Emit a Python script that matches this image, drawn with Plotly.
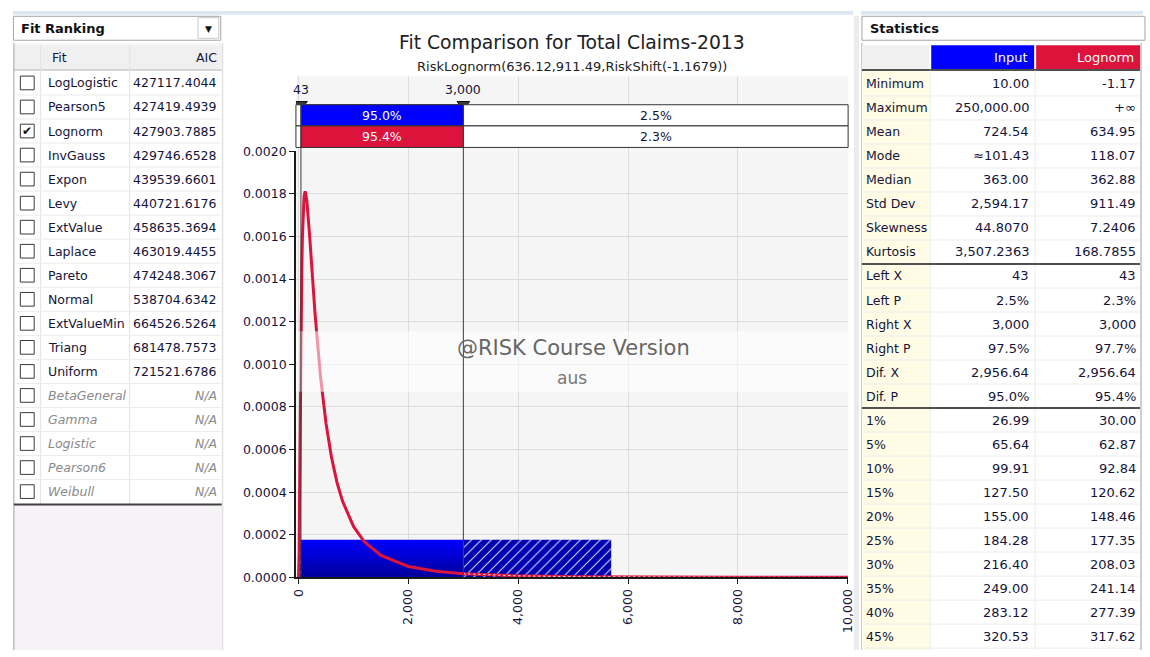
import plotly.graph_objects as go

W, H = 1150, 657

# ---------------- data ----------------
fit_names = ["LogLogistic", "Pearson5", "Lognorm", "InvGauss", "Expon", "Levy", "ExtValue",
             "Laplace", "Pareto", "Normal", "ExtValueMin", "Triang", "Uniform",
             "BetaGeneral", "Gamma", "Logistic", "Pearson6", "Weibull"]
fit_aic = ["427117.4044", "427419.4939", "427903.7885", "429746.6528", "439539.6601",
           "440721.6176", "458635.3694", "463019.4455", "474248.3067", "538704.6342",
           "664526.5264", "681478.7573", "721521.6786", "N/A", "N/A", "N/A", "N/A", "N/A"]
fit_checked = "Lognorm"

stat_labels = ["Minimum", "Maximum", "Mean", "Mode", "Median", "Std Dev", "Skewness", "Kurtosis",
               "Left X", "Left P", "Right X", "Right P", "Dif. X", "Dif. P",
               "1%", "5%", "10%", "15%", "20%", "25%", "30%", "35%", "40%", "45%"]
input_vals = ["10.00", "250,000.00", "724.54", "\u2248101.43", "363.00", "2,594.17", "44.8070",
              "3,507.2363", "43", "2.5%", "3,000", "97.5%", "2,956.64", "95.0%",
              "26.99", "65.64", "99.91", "127.50", "155.00", "184.28", "216.40", "249.00",
              "283.12", "320.53"]
lognorm_vals = ["-1.17", "+\u221e", "634.95", "118.07", "362.88", "911.49", "7.2406",
                "168.7855", "43", "2.3%", "3,000", "97.7%", "2,956.64", "95.4%",
                "30.00", "62.87", "92.84", "120.62", "148.46", "177.35", "208.03", "241.14",
                "277.39", "317.62"]
stat_sections_after = ["Kurtosis", "Dif. P"]

# histogram of the input data (first bin; later bins are negligible in view)
hist_left = [10.0]
hist_width = [5682.0]
hist_density = [0.000177]

# fitted Lognorm density
curve_x = [-1.17, 5, 10, 20, 30, 40, 50, 60, 70, 80, 100, 120, 150, 200, 250, 300, 400, 500,
           600, 700, 800, 1000, 1200, 1500, 2000, 2500, 3000, 4000, 5000, 6000, 8000, 10000]
curve_y = [0.0, 0.000036, 0.000116, 0.000435, 0.000772, 0.001062, 0.001292, 0.001467,
           0.001596, 0.001688, 0.001788, 0.001812, 0.001770, 0.001608, 0.001418, 0.001238,
           0.000940, 0.000722, 0.000563, 0.000445, 0.000358, 0.000239, 0.000166, 0.000103,
           0.0000514, 0.0000286, 0.0000172, 0.0000072, 0.0000035, 0.0000019, 0.00000066,
           0.00000028]

left_x, right_x = 43.36, 3000.0
delim_labels = ["43", "3,000"]
input_pcts = ["2.5%", "95.0%", "2.5%"]
lognorm_pcts = ["2.3%", "95.4%", "2.3%"]

x_ticks = [0, 2000, 4000, 6000, 8000, 10000]
y_ticks = [0.0000, 0.0002, 0.0004, 0.0006, 0.0008, 0.0010, 0.0012, 0.0014, 0.0016, 0.0018, 0.0020]

title_text = "Fit Comparison for Total Claims-2013"
subtitle_text = "RiskLognorm(636.12,911.49,RiskShift(-1.1679))"

# ---------------- style ----------------
FONT = "DejaVu Sans"
TXT = "#14143a"
BLUE = "#0000ff"
RED = "#dc143c"
X_RANGE = [-48, 10005]


def px(x):
    return x / W


def py(y):
    return 1 - y / H


shapes = []
ann = []


def rect(x0, y0, x1, y1, fill=None, line=None, lw=1, layer="below"):
    shapes.append(dict(type="rect", xref="paper", yref="paper", x0=px(x0), x1=px(x1),
                       y0=py(y1), y1=py(y0), fillcolor=fill or "rgba(0,0,0,0)",
                       line=dict(color=line or "rgba(0,0,0,0)", width=lw if line else 0),
                       layer=layer))


def hline(x0, x1, y, color, lw=1):
    shapes.append(dict(type="line", xref="paper", yref="paper", x0=px(x0), x1=px(x1),
                       y0=py(y), y1=py(y), line=dict(color=color, width=lw), layer="below"))


def vline(x, y0, y1, color, lw=1):
    shapes.append(dict(type="line", xref="paper", yref="paper", x0=px(x), x1=px(x),
                       y0=py(y0), y1=py(y1), line=dict(color=color, width=lw), layer="below"))


def text(x, y, s, size=12.5, color=TXT, anchor="left"):
    ann.append(dict(xref="paper", yref="paper", x=px(x), y=py(y), text=s, showarrow=False,
                    xanchor=anchor, yanchor="middle",
                    font=dict(family=FONT, size=size, color=color)))


# top strips and dividers
rect(8, 3, 857, 7, fill="#dce7f4")
rect(865, 3, 1150, 7, fill="#dce7f4")
rect(858, 8, 863, 657, fill="#ececec")

# ---------------- left panel: Fit Ranking ----------------
rect(8.5, 8.5, 218, 33, fill="white", line="#a6a6a6")
text(14, 20.5, "<b>Fit Ranking</b>", size=13, color="#111")
rect(195, 10, 216, 31, fill="white", line="#c8c8c8")
text(206, 21.5, "\u25bc", size=9, color="#111", anchor="center")

rect(9, 36, 220, 657, fill="#f6f3f6")
rect(9, 38, 219, 508, fill="white")
rect(9, 38, 219, 63.5, fill="#f0f0f0")
hline(9, 219, 63.5, "#b4b4b4")
vline(36, 38, 508, "#e2e2e2")
vline(126, 38, 508, "#e2e2e2")
vline(9, 36, 657, "#a0a0a0")
vline(220, 36, 657, "#dadada")
text(45, 51, "Fit", size=12.5)
text(216, 51, "AIC", size=12.5, anchor="right")

FIT_Y0, FIT_DY = 76.7, 24.6
for i, (nm, aic) in enumerate(zip(fit_names, fit_aic)):
    cy = FIT_Y0 + FIT_DY * i
    if i < len(fit_names) - 1:
        hline(9, 219, cy + FIT_DY / 2, "#ececec")
    rect(15.5, cy - 7, 29.5, cy + 7, fill="white", line="#3a3a3a")
    if nm == fit_checked:
        text(22.7, cy, "\u2714", size=12, color="#111", anchor="center")
    if aic == "N/A":
        text(41, cy, "<i>%s</i>" % nm, size=12.5, color="#8a8a8a")
        text(216, cy, "<i>%s</i>" % aic, size=12.5, color="#8a8a8a", anchor="right")
    else:
        text(41, cy, nm, size=12.5)
        text(216, cy, aic, size=12.5, anchor="right")
hline(9, 219, 508, "#404040", 2)

# ---------------- right panel: Statistics ----------------
rect(866, 8.5, 1152, 33, fill="white", line="#a6a6a6")
text(872, 20.5, "<b>Statistics</b>", size=13, color="#111")
vline(866, 36, 657, "#a0a0a0")
vline(1148, 36, 657, "#a0a0a0")
rect(866, 38, 934, 63, fill="#f0f0f0")
rect(936, 38, 1040, 63, fill=BLUE)
rect(1042, 38, 1147, 63, fill=RED)
text(1036, 51, "Input", size=13, color="white", anchor="right")
text(1143, 51, "Lognorm", size=13, color="white", anchor="right")
hline(866, 1147, 63.5, "#505050", 2)

ST_Y0, ST_DY = 77.7, 24.57
rect(866, 64.5, 934, 657, fill="#fffbe4")
vline(935, 64, 657, "#ececec")
vline(1041, 64, 657, "#ececec")
for i, (lab, a, b) in enumerate(zip(stat_labels, input_vals, lognorm_vals)):
    cy = ST_Y0 + ST_DY * i
    yb = cy + ST_DY / 2
    if lab in stat_sections_after:
        hline(866, 1147, yb, "#505050", 2)
    else:
        hline(866, 1147, yb, "#ececec")
    text(868, cy, lab)
    text(1037, cy, a, size=13, anchor="right")
    text(1145, cy, b, size=13, anchor="right")

# ---------------- central chart ----------------
fig = go.Figure()

# input histogram: hatched outside the delimiters, gradient-filled inside
for l, w, d in zip(hist_left, hist_width, hist_density):
    parts = [(l, min(left_x, l + w)), (max(right_x, l), l + w)]
    parts = [(a, b) for a, b in parts if b > a]
    fig.add_trace(go.Bar(
        x=[(a + b) / 2 for a, b in parts], y=[d] * len(parts), width=[b - a for a, b in parts],
        marker=dict(color="#0000b0", line=dict(width=0),
                    pattern=dict(shape="/", fgcolor="#d8d8ff", bgcolor="#0000b0",
                                 size=7, solidity=0.15, fillmode="replace")),
        hoverinfo="skip", showlegend=False))
    a, b = max(l, left_x), min(l + w, right_x)
    if b > a:
        fig.add_trace(go.Scatter(
            x=[a, a, b, b, a], y=[0, d, d, 0, 0], mode="lines", fill="toself",
            fillgradient=dict(type="vertical", colorscale=[[0, "#00009a"], [1, "#0000ff"]]),
            line=dict(width=0), hoverinfo="skip", showlegend=False))

# fitted curve
fig.add_trace(go.Scatter(x=curve_x, y=curve_y, mode="lines",
                         line=dict(color=RED, width=3), hoverinfo="skip", showlegend=False))
tail_x = [x for x in curve_x if x >= right_x]
tail_y = [y for x, y in zip(curve_x, curve_y) if x >= right_x]
fig.add_trace(go.Scatter(x=tail_x, y=tail_y, mode="lines",
                         line=dict(color="white", width=1, dash="2px,3px"),
                         hoverinfo="skip", showlegend=False))

# delimiter markers (top strip uses y2 in page-pixel units)
fig.add_trace(go.Scatter(x=[left_x, right_x], y=[98.5, 98.5], yaxis="y2", mode="markers",
                         marker=dict(symbol="triangle-down", size=11, color="#3a3a3a",
                                     line=dict(color="#111", width=1)),
                         hoverinfo="skip", showlegend=False))
fig.add_trace(go.Scatter(x=[X_RANGE[1], X_RANGE[1]], y=[110, 132], yaxis="y2", mode="markers",
                         marker=dict(symbol="triangle-right-open", size=6, color="#333"),
                         hoverinfo="skip", showlegend=False))
fig.add_trace(go.Scatter(x=[X_RANGE[0]], y=[132], yaxis="y2", mode="markers",
                         marker=dict(symbol="diamond-open", size=6, color="#333"),
                         hoverinfo="skip", showlegend=False))

for xv, lab in zip([left_x, right_x], delim_labels):
    ann.append(dict(xref="x", yref="y2", x=xv, y=83, text=lab, showarrow=False,
                    xanchor="center", yanchor="middle",
                    font=dict(family=FONT, size=12.5, color=TXT)))

rows = [(99, 120.7, BLUE, input_pcts), (120.7, 142.7, RED, lognorm_pcts)]
for y0, y1, col, pcts in rows:
    shapes.append(dict(type="rect", xref="x domain", yref="y2", x0=0, x1=1, y0=y0, y1=y1,
                       fillcolor="white", line=dict(color="#333", width=1), layer="above"))
    shapes.append(dict(type="rect", xref="x", yref="y2", x0=left_x, x1=right_x, y0=y0, y1=y1,
                       fillcolor=col, line=dict(color="#333", width=1), layer="above"))
    cy = (y0 + y1) / 2
    ann.append(dict(xref="x", yref="y2", x=(left_x + right_x) / 2, y=cy, text=pcts[1],
                    showarrow=False, xanchor="center", yanchor="middle",
                    font=dict(family=FONT, size=12.5, color="white")))
    ann.append(dict(xref="x", yref="y2", x=(right_x + X_RANGE[1]) / 2, y=cy, text=pcts[2],
                    showarrow=False, xanchor="center", yanchor="middle",
                    font=dict(family=FONT, size=12.5, color=TXT)))

# watermark band
shapes.append(dict(type="rect", xref="x domain", yref="paper", x0=0, x1=1,
                   y0=py(392.7), y1=py(330.7), fillcolor="rgba(255,255,255,0.55)",
                   line=dict(width=0), layer="above"))
# delimiter lines
for xv in [left_x, right_x]:
    shapes.append(dict(type="line", xref="x", yref="paper", x0=xv, x1=xv,
                       y0=py(583), y1=py(99), line=dict(color="#3c3c3c", width=1),
                       layer="above"))


def ctext(x, y, s, size, color):
    ann.append(dict(xref="paper", yref="paper", x=px(x), y=py(y), text=s, showarrow=False,
                    xanchor="center", yanchor="middle",
                    font=dict(family=FONT, size=size, color=color)))


ctext(574, 348, "@RISK Course Version", 21, "#666")
ctext(573, 379, "aus", 17, "#777")
ctext(573, 35, title_text, 18.8, "#222")
ctext(573, 60, subtitle_text, 13, "#222")

fig.update_layout(
    width=W, height=H, autosize=False,
    margin=dict(l=0, r=0, t=0, b=0, pad=0),
    paper_bgcolor="white", plot_bgcolor="#f5f5f5",
    barmode="overlay", showlegend=False,
    xaxis=dict(domain=[px(294), px(852)], range=X_RANGE, tickvals=x_ticks,
               ticktext=[f"{v:,}" for v in x_ticks], tickangle=-90,
               showline=True, linecolor="#1a1a1a", linewidth=1.5, mirror=False,
               ticks="outside", ticklen=5, tickcolor="#1a1a1a",
               showgrid=True, gridcolor="#dcdcdc", zeroline=False,
               tickfont=dict(family=FONT, size=12.5, color=TXT), fixedrange=True),
    yaxis=dict(domain=[py(582.7), py(146.5)], range=[0, 0.002], tickvals=y_ticks,
               ticktext=[f"{v:.4f}" for v in y_ticks],
               showline=True, linecolor="#1a1a1a", linewidth=1.5,
               ticks="outside", ticklen=5, tickcolor="#1a1a1a",
               showgrid=True, gridcolor="#dcdcdc", zeroline=False,
               tickfont=dict(family=FONT, size=12.5, color=TXT), fixedrange=True),
    yaxis2=dict(domain=[py(146), py(70)], range=[146, 70], visible=False, anchor="x",
                fixedrange=True),
    shapes=shapes, annotations=ann,
)

fig.write_html("out.html", config={"displayModeBar": False},
               post_script="document.body.style.margin='0px';")
